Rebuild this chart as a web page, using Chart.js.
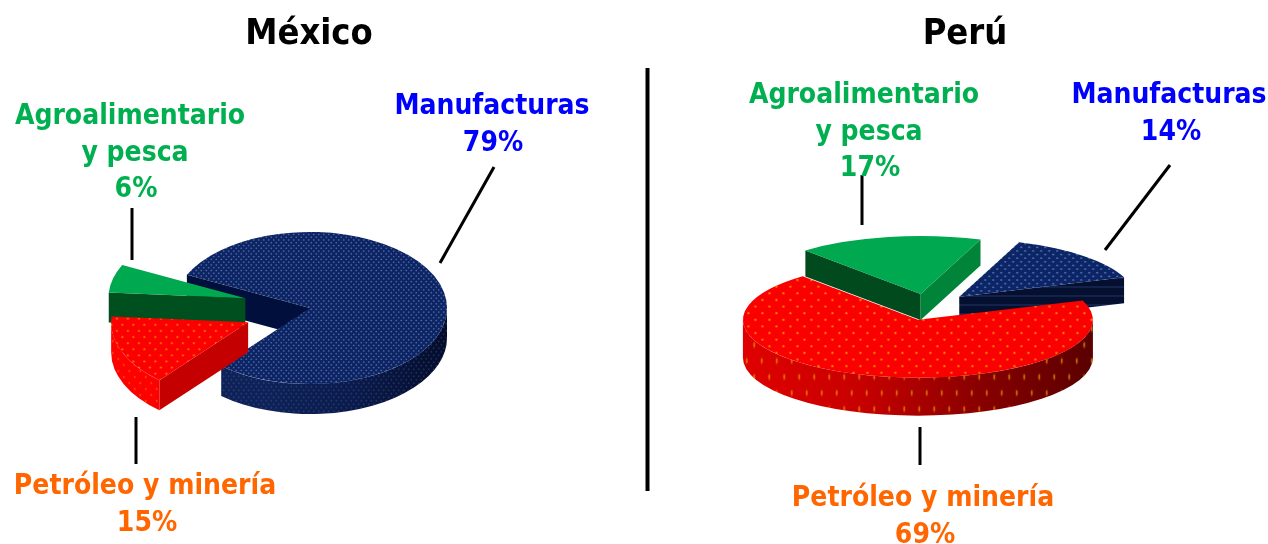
<!DOCTYPE html>
<html>
<head>
<meta charset="utf-8">
<script src="https://cdn.jsdelivr.net/npm/chart.js@4"></script>
<style>
html,body{margin:0;padding:0;background:#fff;width:1268px;height:544px;overflow:hidden}
#stage{position:relative;width:1268px;height:544px;font-family:"DejaVu Sans Condensed","DejaVu Sans",sans-serif;font-weight:bold}
canvas{position:absolute}
.t{position:absolute;text-align:center;white-space:nowrap;transform:translateX(-50%)}
.title{font-size:36px;line-height:40px;color:#000}
.lab{font-size:28px;line-height:36px}
svg{position:absolute;left:0;top:0}
</style>
</head>
<body>
<div id="stage">
  <canvas id="mx" width="620" height="420" style="left:0;top:98px"></canvas>
  <canvas id="pe" width="640" height="420" style="left:607.6px;top:97px"></canvas>
  <svg width="1268" height="544">
    <g stroke="#000" stroke-width="3" stroke-linecap="butt">
      <line x1="132" y1="208" x2="132" y2="260"/>
      <line x1="494" y1="167" x2="440" y2="263"/>
      <line x1="136" y1="417" x2="136" y2="464"/>
      <line x1="862" y1="175" x2="862" y2="225"/>
      <line x1="1170" y1="165" x2="1105" y2="250"/>
      <line x1="920" y1="427" x2="920" y2="465"/>
      <line x1="647.5" y1="68" x2="647.5" y2="491" stroke-width="4"/>
    </g>
  </svg>
  <div id="labels"></div>
</div>
<script>
const categories = ['Manufacturas', 'Petróleo y minería', 'Agroalimentario y pesca'];
const mexicoValues = [79, 15, 6];
const peruValues = [14, 69, 17];
const countries = ['México', 'Perú'];

// Staggered soft dots; ry is the tile-space vertical radius, so dots stay round after the squash.
function dots(bg, dot, halo, w, h, r, ry) {
  const c = document.createElement('canvas');
  c.width = w; c.height = h;
  const g = c.getContext('2d');
  if (bg) { g.fillStyle = bg; g.fillRect(0, 0, w, h); }
  [[w * .25, h * .25], [w * .75, h * .75]].forEach(p => {
    g.fillStyle = halo;
    g.beginPath(); g.ellipse(p[0], p[1], r * 1.7, ry * 1.7, 0, 0, Math.PI * 2); g.fill();
    g.fillStyle = dot;
    g.beginPath(); g.ellipse(p[0], p[1], r, ry, 0, 0, Math.PI * 2); g.fill();
  });
  return g.createPattern(c, 'repeat');
}
function stripes(bg, line, h) {
  const c = document.createElement('canvas');
  c.width = 4; c.height = h;
  const g = c.getContext('2d');
  g.fillStyle = bg; g.fillRect(0, 0, 4, h);
  g.fillStyle = line; g.fillRect(0, 0, 4, 2);
  return g.createPattern(c, 'repeat');
}
const navyMx = dots('#0d2462', '#5a74b4', 'rgba(90,120,190,.22)', 5, 10, 0.65, 1.15);
const navyPe = dots('#0b2566', '#6a82b8', 'rgba(100,130,190,.25)', 8, 22, 0.75, 2.2);
const redMx = dots('#fb0000', '#ff7000', 'rgba(255,100,0,.3)', 11, 22, 0.9, 1.6);
const redPe = dots('#fa0000', '#ff7c00', 'rgba(255,100,0,.3)', 14, 40, 1.0, 3.0);
const navyWallDots = dots(null, 'rgba(100,125,190,.28)', 'rgba(100,125,190,.08)', 5, 7, 0.65, 0.85);
const redWallMx = dots(null, 'rgba(255,140,0,.4)', 'rgba(255,120,0,.15)', 11, 12, 0.8, 1.1);
const redWallPe = dots(null, 'rgba(235,160,10,.55)', 'rgba(235,140,0,.18)', 15, 32, 0.9, 2.4);
const navyStripes = stripes('#050f30', '#12224a', 9);

const pie3d = {
  id: 'pie3d',
  beforeDatasetDraw(chart, args, o) {
    const ctx = chart.ctx;
    const arcs = chart.getDatasetMeta(args.index).data;
    const k = o.tilt;
    o.order.forEach(i => {
      const a = arcs[i];
      const p = a.getProps(['x', 'y', 'startAngle', 'endAngle', 'outerRadius']);
      const off = o.explode[i];
      const mid = (p.startAngle + p.endAngle) / 2;
      const dx = Math.cos(mid) * off, dy = Math.sin(mid) * off;
      const cx = p.x + dx;
      const cy = p.y + dy * k;
      const r = p.outerRadius;
      const d = o.depths[i];
      const rim = t => [cx + r * Math.cos(t), cy + k * r * Math.sin(t)];
      const quad = (t, col) => {
        const q = rim(t);
        ctx.fillStyle = col;
        ctx.beginPath();
        ctx.moveTo(cx, cy); ctx.lineTo(q[0], q[1]);
        ctx.lineTo(q[0], q[1] + d); ctx.lineTo(cx, cy + d);
        ctx.closePath(); ctx.fill();
      };
      if (Math.cos(p.startAngle) < 0) quad(p.startAngle, o.startFace[i]);
      if (Math.cos(p.endAngle) > 0) quad(p.endAngle, o.endFace[i]);
      // outer wall: the part of the rim that faces the viewer
      const T = Math.PI * 2;
      for (let n = -1; n <= 2; n++) {
        const lo = Math.max(p.startAngle, n * T);
        const hi = Math.min(p.endAngle, n * T + Math.PI);
        if (hi <= lo) continue;
        const path = () => {
          ctx.beginPath();
          ctx.ellipse(cx, cy, r, k * r, 0, lo, hi);
          ctx.ellipse(cx, cy + d, r, k * r, 0, hi, lo, true);
          ctx.closePath();
        };
        const gr = ctx.createLinearGradient(cx - r, 0, cx + r, 0);
        o.wall[i].forEach((c, j, all) => gr.addColorStop(j / (all.length - 1), c));
        ctx.fillStyle = gr; path(); ctx.fill();
        if (o.wallDots[i]) { ctx.fillStyle = o.wallDots[i]; path(); ctx.fill(); }
      }
      // top face, drawn by the library's own arc element under a vertical squash
      ctx.save();
      ctx.translate(0, p.y); ctx.scale(1, k); ctx.translate(0, -p.y);
      ctx.translate(dx, dy);
      a.draw(ctx);
      ctx.restore();
    });
    return false;
  }
};

function pie(id, values, colors, rotation, radius, cfg) {
  return new Chart(document.getElementById(id), {
    type: 'pie',
    data: {
      labels: categories,
      datasets: [{ data: values, backgroundColor: colors, borderWidth: 0 }]
    },
    options: {
      responsive: false,
      animation: false,
      devicePixelRatio: 1,
      rotation: rotation,
      radius: radius,
      layout: { padding: 0 },
      plugins: { legend: { display: false }, tooltip: { enabled: false }, pie3d: cfg }
    },
    plugins: [pie3d]
  });
}

pie('mx', mexicoValues, [navyMx, redMx, '#00a84f'], 296, 137, {
  tilt: 0.555,
  explode: [0, 67, 67],
  depths: [30, 30, 30],
  order: [0, 2, 1],
  startFace: ['#000f3c', '#c40000', '#00501f'],
  endFace: ['#000f3c', '#c40000', '#00843a'],
  wall: [['#0e2258', '#0e2258', '#0a1a4a', '#040c2a'], ['#ff0000', '#fa0000', '#e80000', '#d00000'], ['#00843a', '#00843a']],
  wallDots: [navyWallDots, redWallMx, null]
});
pie('pe', peruValues, [navyPe, redPe, '#00a84f'], 20, 175, {
  tilt: 0.331,
  explode: [44, 40, 40],
  depths: [26, 38, 26],
  order: [0, 1, 2],
  startFace: ['#000f3c', '#c40000', '#004a1e'],
  endFace: [navyStripes, '#c40000', '#00843a'],
  wall: [['#00113f', '#00113f'], ['#e00000', '#c80000', '#8a0000', '#5a0000'], ['#00843a', '#00843a']],
  wallDots: [null, redWallPe, null]
});

const GREEN = '#00b050', BLUE = '#0000ff', ORANGE = '#ff6600';
const texts = [
  ['title', 309, 12, '#000', [[countries[0], 0]]],
  ['title', 965, 12, '#000', [[countries[1], 0]]],
  ['lab', 130, 97, GREEN, [['Agroalimentario', 0], ['y pesca', 5], [mexicoValues[2] + '%', 6]]],
  ['lab', 492, 87, BLUE, [[categories[0], 0], [mexicoValues[0] + '%', 1]]],
  ['lab', 145, 467, ORANGE, [[categories[1], 0], [mexicoValues[1] + '%', 2]]],
  ['lab', 864, 76, GREEN, [['Agroalimentario', 0], ['y pesca', 5], [peruValues[2] + '%', 6]]],
  ['lab', 1169, 76, BLUE, [[categories[0], 0], [peruValues[0] + '%', 2]]],
  ['lab', 923, 479, ORANGE, [[categories[1], 0], [peruValues[1] + '%', 2]]]
];
const host = document.getElementById('labels');
texts.forEach(t => {
  t[4].forEach((line, n) => {
    const e = document.createElement('div');
    e.className = 't ' + t[0];
    e.style.left = (t[1] + line[1]) + 'px';
    e.style.top = (t[2] + n * 36.5) + 'px';
    e.style.color = t[3];
    e.textContent = line[0];
    host.appendChild(e);
  });
});
</script>
</body>
</html>
